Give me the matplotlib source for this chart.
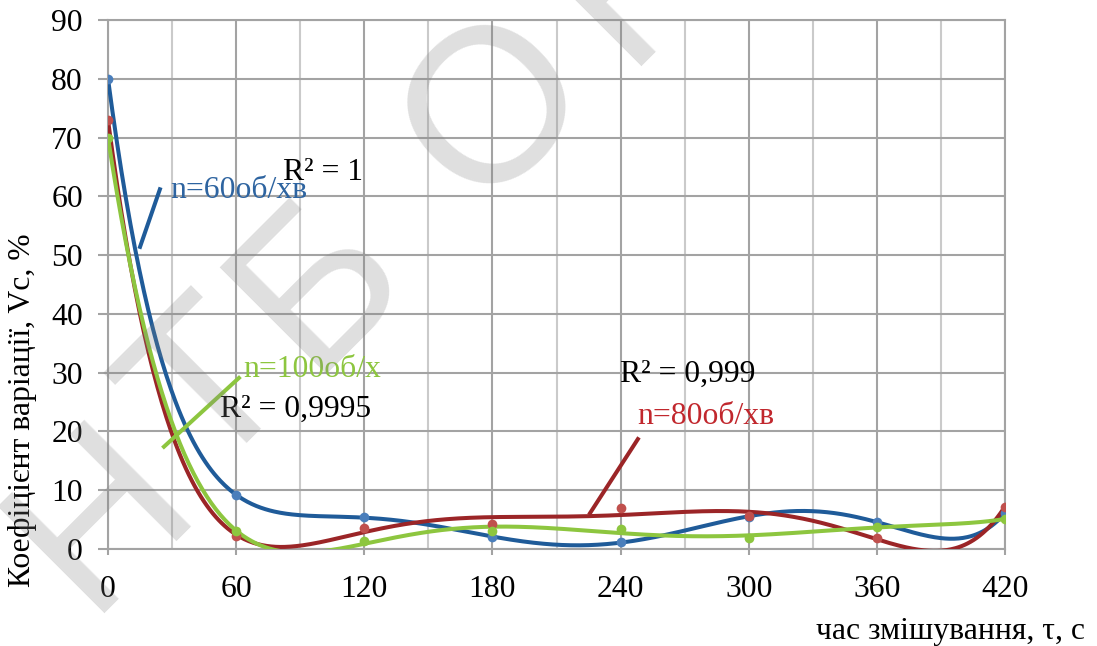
import numpy as np
import matplotlib
matplotlib.use("Agg")
import matplotlib.pyplot as plt
from matplotlib.ticker import MultipleLocator

# ---- data ----
t = [0, 60, 120, 180, 240, 300, 360, 420]
vc_60 = [80.0, 9.2, 5.4, 2.0, 1.2, 5.5, 4.6, 6.1]
vc_80 = [73.0, 2.2, 3.6, 4.2, 7.0, 5.6, 1.9, 7.2]
vc_100 = [70.0, 3.0, 1.3, 3.1, 3.4, 1.9, 3.8, 5.1]
x_ticks = [0, 60, 120, 180, 240, 300, 360, 420]
y_ticks = [0, 10, 20, 30, 40, 50, 60, 70, 80, 90]
labels = ["n=60об/хв", "n=80об/хв", "n=100об/х"]
r2_labels = ["R² = 1", "R² = 0,999", "R² = 0,9995"]
watermark = ["Н", "Т", "Б", "О", "Н"]

plt.rcParams['font.family'] = ['Liberation Serif', 'DejaVu Serif']

W, H = 1097, 646
fig = plt.figure(figsize=(W/100, H/100), dpi=100)
ax = fig.add_axes([108/W, 1-549/H, (1005-108)/W, (549-20)/H])

c_line = ['#1F5B99', '#9B2527', '#8DC63F']
c_mark = ['#4A7EBB', '#C0504D', '#8DC63F']
c_text = ['#2E64A0', '#C1272D', '#8DC63F']

xs = np.linspace(0, 420, 600)
for vals, cl, cm in zip([vc_60, vc_80, vc_100], c_line, c_mark):
    p = np.polynomial.Polynomial.fit(t, vals, 6)
    ax.plot(xs, p(xs), color=cl, lw=2.9, zorder=3, solid_capstyle='round')
    ax.plot(t, vals, 'o', color=cm, ms=7, zorder=4, markeredgewidth=0)

ax.set_xlim(0, 420)
ax.set_ylim(0, 90)
ax.xaxis.set_minor_locator(MultipleLocator(30))
ax.set_xticks(x_ticks)
ax.set_yticks(y_ticks)
ax.grid(which='major', color='#A3A3A3', lw=1.5)
ax.grid(which='minor', axis='x', color='#CACACA', lw=1.5)
ax.set_axisbelow(True)
for s in ax.spines.values():
    s.set_color('#A3A3A3')
    s.set_linewidth(1.5)
FS = 22.8
ax.tick_params(axis='y', which='major', length=7, width=1.5, color='#A3A3A3', pad=11, labelsize=FS)
ax.tick_params(axis='x', which='major', length=4, width=1.5, color='#A3A3A3', pad=15, labelsize=FS)
ax.tick_params(axis='x', which='minor', length=0)

# annotations (leader lines + labels)
ax.plot([15.0, 24.3], [51.4, 61.2], color=c_line[0], lw=2.9, zorder=5)
ax.text(29.0, 59.7, labels[0], color=c_text[0], fontsize=FS, va='baseline', zorder=5)
ax.text(81.9, 62.8, r2_labels[0], color='black', fontsize=FS, va='baseline', zorder=5)

ax.plot([26.2, 61.3], [17.4, 29.1], color=c_line[2], lw=2.9, zorder=5)
ax.text(63.2, 29.3, labels[2], color=c_text[2], fontsize=FS, va='baseline', zorder=5)
ax.text(52.4, 22.5, r2_labels[2], color='black', fontsize=FS, va='baseline', zorder=5)

ax.plot([225.7, 248.1], [6.1, 18.7], color=c_line[1], lw=2.9, zorder=5)
ax.text(247.7, 21.3, labels[1], color=c_text[1], fontsize=FS, va='baseline', zorder=5)
ax.text(239.7, 28.4, r2_labels[1], color='black', fontsize=FS, va='baseline', zorder=5)

fig.text(23/W, 1-410/H, "Коефіцієнт варіації, Vc, %", rotation=90,
         ha='center', va='center', fontsize=FS)
fig.text(1085/W, 1-632/H, "час змішування, τ, с", ha='right', va='center', fontsize=FS)

# watermark letters (centres in pixels), rotated 45 degrees
wm_centres = [(88, 502), (198, 378), (305, 268), (483, 95), (625, -45)]
for ch, (cx, cy) in zip(watermark, wm_centres):
    bx, by = cx + 55, cy + 55
    fig.text(bx/W, 1-by/H, ch, rotation=45, rotation_mode='anchor',
             ha='center', va='baseline', fontsize=158, family='Liberation Sans',
             color='gray', alpha=0.25, zorder=10)

fig.savefig('out.png', dpi=100)
